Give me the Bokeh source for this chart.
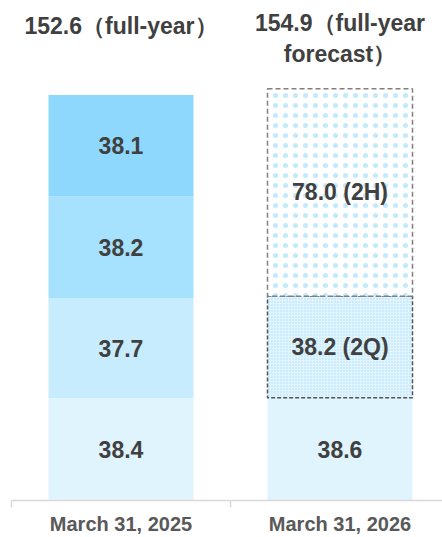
from bokeh.plotting import figure
from bokeh.models import Range1d, FixedTicker, ColumnDataSource
from bokeh.core.properties import value
from bokeh.embed import file_html
from bokeh.resources import INLINE

categories = ["March 31, 2025", "March 31, 2026"]
fy2025_quarters = [38.4, 37.7, 38.2, 38.1]
fy2025_colors = ["#E0F4FE", "#C6ECFE", "#A6E1FE", "#8ED8FE"]
fy2026_1q = 38.6
fy2026_2q = 38.2
fy2026_2h = 78.0
fy2026_labels = ["38.6", "38.2 (2Q)", "78.0 (2H)"]
title_lines = [["152.6（full-year）"], ["154.9（full-year", "forecast）"]]

FONT = "Liberation Sans"
TXT = "#404040"

W, H = 442, 537
left_border, bottom_border = 11, 35
frame_h = H - bottom_border
cat_px = 219.0
x_end = (W - left_border) / cat_px
total_2025 = sum(fy2025_quarters)
px_per_unit = 407.0 / total_2025
y_end = frame_h / px_per_unit
bw = 145.0 / cat_px

p = figure(width=W, height=H, output_backend="svg", toolbar_location=None,
           x_range=Range1d(0, x_end), y_range=Range1d(0, y_end),
           min_border_left=left_border, min_border_right=0,
           min_border_top=0, min_border_bottom=bottom_border)
p.outline_line_color = None
p.xgrid.visible = False
p.ygrid.visible = False
p.yaxis.visible = False
p.background_fill_color = "white"

xpos = [i + 0.5 for i in range(len(categories))]

# FY2025 stacked bars
bottoms, tops = [], []
acc = 0.0
for v in fy2025_quarters:
    bottoms.append(acc)
    acc += v
    tops.append(acc)
src25 = ColumnDataSource(dict(x=[xpos[0]] * 4, b=bottoms, t=tops, c=fy2025_colors,
                              ym=[(b + t) / 2 for b, t in zip(bottoms, tops)],
                              lab=[f"{v:.1f}" for v in fy2025_quarters]))
p.vbar(x="x", bottom="b", top="t", width=bw, fill_color="c", line_color=None, source=src25)

# FY2026
b1, t1 = 0.0, fy2026_1q
b2, t2 = t1, t1 + fy2026_2q
b3, t3 = t2, t2 + fy2026_2h
p.vbar(x=[xpos[1]], bottom=[b1], top=[t1], width=bw, fill_color="#E0F4FE", line_color=None)
p.vbar(x=[xpos[1]], bottom=[b2], top=[t2], width=bw, fill_color="#E2F5FE",
       hatch_pattern="dot", hatch_color="#A4DEFA", hatch_scale=3, hatch_weight=1,
       line_color="#555555", line_dash="4 2", line_width=1.5)
p.vbar(x=[xpos[1]], bottom=[b3], top=[t3], width=bw, fill_color="white",
       hatch_pattern="dot", hatch_color="#C2EAFC", hatch_scale=10, hatch_weight=0.8,
       line_color="#808080", line_dash="5 3", line_width=1.5)

# bar labels
p.text(x="x", y="ym", text="lab", source=src25, text_align="center", text_baseline="middle",
       text_font=value(FONT), text_font_style="bold", text_font_size="23px", text_color=TXT)
p.text(x=[xpos[1]] * 3, y=[(b1 + t1) / 2, (b2 + t2) / 2, (b3 + t3) / 2], text=fy2026_labels,
       text_align="center", text_baseline="middle",
       text_font=value(FONT), text_font_style="bold", text_font_size="23px", text_color=TXT)

# titles above bars (vertical centres in screen px from the top)
centers_px = [[26], [22.5, 53.5]]
tx, ty, tt = [], [], []
for i, lines in enumerate(title_lines):
    for line, cpx in zip(lines, centers_px[i]):
        tx.append(xpos[i])
        ty.append((frame_h - cpx) / px_per_unit)
        tt.append(line)
p.text(x=tx, y=ty, text=tt, text_align="center", text_baseline="middle",
       text_font=value(FONT), text_font_style="bold", text_font_size="23px", text_color=TXT)

# x axis
ax = p.xaxis[0]
ax.ticker = FixedTicker(ticks=xpos, minor_ticks=[0, 1, 2])
ax.major_label_overrides = {xpos[i]: categories[i] for i in range(len(categories))}
ax.major_tick_line_color = None
ax.major_tick_out = 0
ax.major_tick_in = 0
ax.minor_tick_line_color = "#D9D9D9"
ax.minor_tick_line_width = 1.5
ax.minor_tick_out = 7
ax.minor_tick_in = 0
ax.axis_line_color = "#D9D9D9"
ax.axis_line_width = 1.5
ax.major_label_standoff = 5
ax.major_label_text_font = FONT
ax.major_label_text_font_style = "bold"
ax.major_label_text_font_size = "20px"
ax.major_label_text_color = "#595959"

open("out.html", "w").write(file_html(p, INLINE))
